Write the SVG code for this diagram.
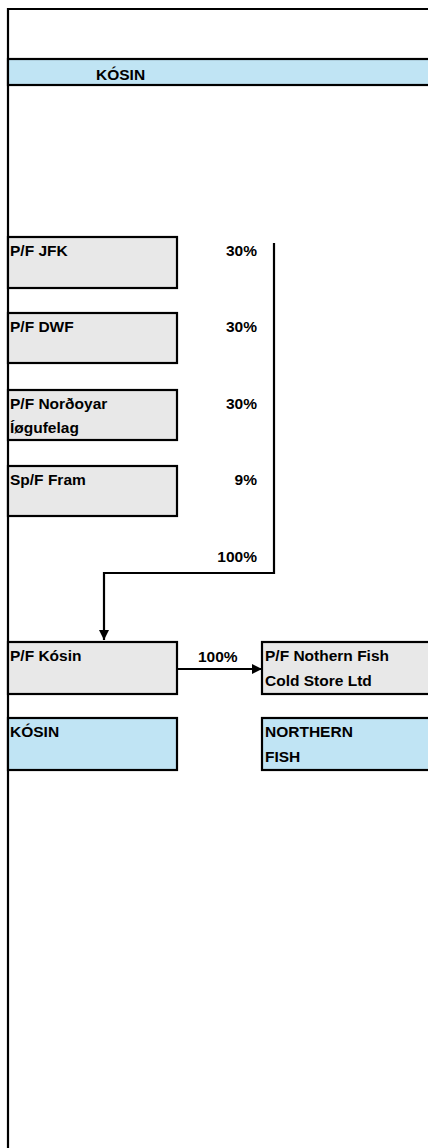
<svg xmlns="http://www.w3.org/2000/svg" width="428" height="1148" viewBox="0 0 428 1148">
<style>
text{font-family:"Liberation Sans",Arial,sans-serif;font-weight:bold;font-size:15.5px;fill:#000}
.g{fill:#E8E8E8;stroke:#000;stroke-width:2.2}
.b{fill:#C0E4F4;stroke:#000;stroke-width:2.2}
.ln{fill:none;stroke:#000;stroke-width:2.2}
.r{text-anchor:end}
</style>
<defs>
<marker id="ah" markerWidth="10" markerHeight="10" refX="10" refY="5" orient="auto" markerUnits="userSpaceOnUse">
<path d="M0,0 L10,5 L0,10 Z" fill="#000"/>
</marker>
</defs>
<rect x="0" y="0" width="428" height="1148" fill="#fff"/>
<g id="frame">
<path class="ln" d="M8,1150 V9 H430"/>
</g>
<g id="header">
<rect class="b" x="8" y="59" width="424" height="26"/>
<text x="96" y="80">KÓSIN</text>
</g>
<g id="jfk">
<rect class="g" x="8" y="237" width="169" height="51"/>
<text x="10" y="256">P/F JFK</text>
<text class="r" x="257" y="256">30%</text>
</g>
<g id="dwf">
<rect class="g" x="8" y="313" width="169" height="50"/>
<text x="10" y="332">P/F DWF</text>
<text class="r" x="257" y="332">30%</text>
</g>
<g id="nordoyar">
<rect class="g" x="8" y="390" width="169" height="50"/>
<text x="10" y="409">P/F Norðoyar</text>
<text x="10" y="433">Íøgufelag</text>
<text class="r" x="257" y="409">30%</text>
</g>
<g id="fram">
<rect class="g" x="8" y="466" width="169" height="50"/>
<text x="10" y="485">Sp/F Fram</text>
<text class="r" x="257" y="485">9%</text>
</g>
<g id="total">
<text class="r" x="257" y="562">100%</text>
</g>
<g id="kosin">
<rect class="g" x="8" y="642" width="169" height="52"/>
<text x="10" y="661">P/F Kósin</text>
</g>
<g id="nfcs">
<rect class="g" x="262" y="642" width="170" height="52"/>
<text x="265" y="661">P/F Nothern Fish</text>
<text x="265" y="686">Cold Store Ltd</text>
</g>
<g id="kosin-label">
<rect class="b" x="8" y="718" width="169" height="52"/>
<text x="10" y="737">KÓSIN</text>
</g>
<g id="nf-label">
<rect class="b" x="262" y="718" width="170" height="52"/>
<text x="265" y="737">NORTHERN</text>
<text x="265" y="762">FISH</text>
</g>
<g id="connectors">
<path class="ln" d="M274,243 V573 H104 V640" marker-end="url(#ah)"/>
<path class="ln" d="M177,669 H262" marker-end="url(#ah)"/>
<text x="198" y="662">100%</text>
</g>
</svg>
